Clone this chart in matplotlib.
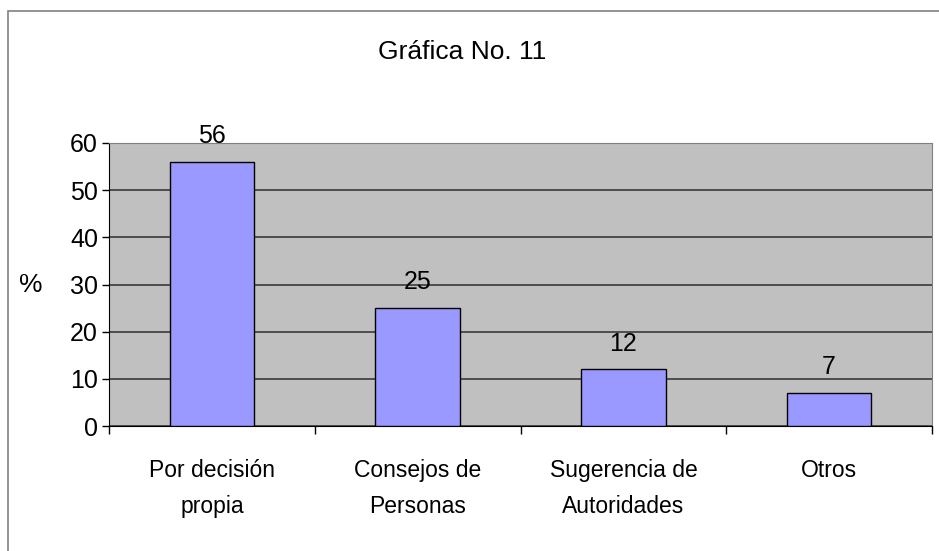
import matplotlib
matplotlib.use('Agg')
import matplotlib.pyplot as plt
from matplotlib.patches import Rectangle
import numpy as np

# datos de la grafica
categorias = ['Por decisión\npropia', 'Consejos de\nPersonas', 'Sugerencia de\nAutoridades', 'Otros']
valores = [56, 25, 12, 7]
titulo = 'Gráfica No. 11'
yticks = [0, 10, 20, 30, 40, 50, 60]

plt.rcParams['font.family'] = ['Liberation Sans', 'DejaVu Sans']

fig = plt.figure(figsize=(9.39, 5.51), dpi=100)
ax = fig.add_axes([109/939, 1-426/551, (932-109)/939, (426-143)/551])

x = np.arange(len(valores))
ax.bar(x, valores, width=0.41, color='#9999FF', edgecolor='black', linewidth=1, zorder=3)
for xi, v in zip(x, valores):
    ax.annotate(str(v), (xi, v), xytext=(0, 10), textcoords='offset points',
                ha='center', va='bottom', fontsize=18)

ax.set_facecolor('#C0C0C0')
ax.set_xlim(-0.5, 3.5)
ax.set_ylim(0, 60)
ax.set_yticks(yticks)
ax.yaxis.grid(True, color='#3a3a3a', linewidth=1.2, zorder=1)
ax.set_axisbelow(True)
ax.tick_params(axis='y', labelsize=18, length=5, width=1, pad=3, direction='out')

# ticks en los limites de cada categoria, etiquetas al centro
ax.set_xticks(np.arange(-0.5, 4, 1))
ax.set_xticklabels([])
ax.tick_params(axis='x', which='major', length=6, width=1, direction='out')
ax.set_xticks(x, minor=True)
ax.set_xticklabels(categorias, minor=True, fontsize=16.5, linespacing=1.7)
ax.tick_params(axis='x', which='minor', length=0, pad=24)

for s in ['left', 'bottom']:
    ax.spines[s].set_color('black')
for s in ['top', 'right']:
    ax.spines[s].set_color('#808080')

ax.set_ylabel('%', fontsize=19, rotation=0, labelpad=28, va='center')

fig.text(462/939, 1-52/551, titulo, ha='center', va='center', fontsize=19)

# marco exterior
fig.patches.append(Rectangle((8/939, -0.1), 1.2, 1-11/551+0.1, transform=fig.transFigure,
                             fill=False, edgecolor='#808080', linewidth=1.2))

fig.savefig('out.png', dpi=100)
